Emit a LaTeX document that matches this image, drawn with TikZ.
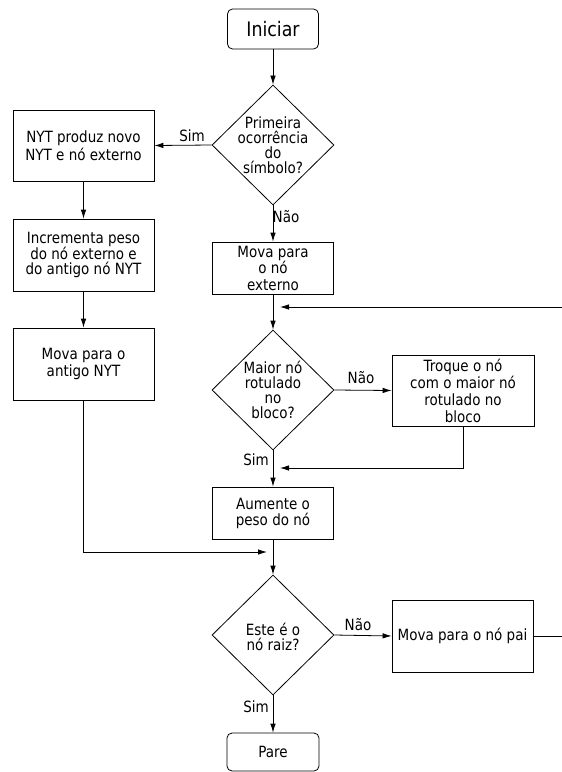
\documentclass[tikz,border=0pt]{standalone}
\usepackage{fontspec}
\setmainfont{DejaVu Sans}[FakeStretch=0.87]
\usetikzlibrary{shapes.geometric,arrows.meta}
\begin{document}
\begin{tikzpicture}[x=1pt,y=-1pt,
  line width=0.8pt,
  every node/.style={font=\fontsize{15.5}{16}\selectfont},
  box/.style={draw, rectangle, inner sep=0pt, align=center},
  term/.style={draw, rectangle, rounded corners=5pt, inner sep=0pt, align=center},
  decision/.style={draw, diamond, inner sep=0pt, minimum width=122pt, minimum height=120pt},
  txt/.style={align=center, inner sep=0pt, font=\fontsize{15.5}{15}\selectfont},
  flow/.style={-{Latex[length=9pt,width=5.5pt]}},
  lbl/.style={inner sep=0pt}
]
\useasboundingbox (0,0) rectangle (562,772);

% terminals
\node[term, minimum width=91pt, minimum height=40pt,
      font=\fontsize{20}{22}\selectfont] (start) at (273,29) {Iniciar};
\node[term, minimum width=92pt, minimum height=38pt] (stop) at (273,752) {Pare};

% decisions
\node[decision] (d1) at (273,145) {};
\node[txt] (d1t) at (d1) {Primeira\\ocorrência\\do\\símbolo?};
\node[decision] (d2) at (273,390) {};
\node[txt] (d2t) at (d2) {Maior nó\\rotulado\\no\\bloco?};
\node[decision] (d3) at (273,635) {};
\node[txt] (d3t) at ([yshift=-2pt]d3) {Este é o\\nó raiz?};

% left column
\node[box, minimum width=141pt, minimum height=71pt, font=\fontsize{15.5}{17.5}\selectfont]
  (nyt) at (83.5,145.5) {NYT produz novo\\NYT e nó externo};
\node[box, minimum width=141pt, minimum height=72pt, font=\fontsize{15.5}{15}\selectfont]
  (inc) at (83.5,255) {Incrementa peso\\do nó externo e\\do antigo nó NYT};
\node[box, minimum width=141pt, minimum height=72pt, font=\fontsize{15.5}{16.5}\selectfont]
  (old) at (83.5,364) {Mova para o\\antigo NYT};

% centre column
\node[box, minimum width=121pt, minimum height=52pt, font=\fontsize{15.5}{16.5}\selectfont]
  (ext) at (273,268) {Mova para\\o nó\\externo};
\node[box, minimum width=121pt, minimum height=52pt] (inc2) at (273,513)
  {Aumente o\\peso do nó};

% right column
\node[box, minimum width=142pt, minimum height=71pt, font=\fontsize{15.5}{17}\selectfont]
  (swap) at (463,390.5) {Troque o nó\\com o maior nó\\rotulado no\\bloco};
\node[box, minimum width=141pt, minimum height=72pt] (par) at (462.5,636)
  {Mova para o nó pai};

% branch labels
\node[lbl] (s1) at (192,136) {Sim};
\node[lbl] (n1) at (286,217) {Não};
\node[lbl] (n2) at (361,378) {Não};
\node[lbl] (s2) at (256,460) {Sim};
\node[lbl] (n3) at (358,625) {Não};
\node[lbl] (s3) at (256,707) {Sim};

% joins and loop-back points
\coordinate (loopA) at (576,636);
\coordinate (loopB) at (576,307);
\coordinate (loopEnd) at (280,307);
\coordinate (swapDown) at (463,468);
\coordinate (swapEnd) at (280,468);
\coordinate (oldDown) at (83.5,552);
\coordinate (oldEnd) at (267,552);

% connectors
\draw[flow] (start) -- (d1);
\draw[flow] (d1.west) -- (nyt.east);
\draw[flow] (d1.south) -- (ext.north);
\draw[flow] (nyt) -- (inc);
\draw[flow] (inc) -- (old);
\draw[flow] (ext) -- (d2);
\draw[flow] (d2.east) -- (swap.west);
\draw[flow] (swap.south) -- (swapDown) -- (swapEnd);
\draw[flow] (d2.south) -- (inc2.north);
\draw[flow] (old.south) -- (oldDown) -- (oldEnd);
\draw[flow] (inc2.south) -- (d3.north);
\draw[flow] (d3.east) -- (par.west);
\draw[flow] (d3.south) -- (stop.north);
\draw[flow] (par.east) -- (loopA) -- (loopB) -- (loopEnd);
\end{tikzpicture}
\end{document}
